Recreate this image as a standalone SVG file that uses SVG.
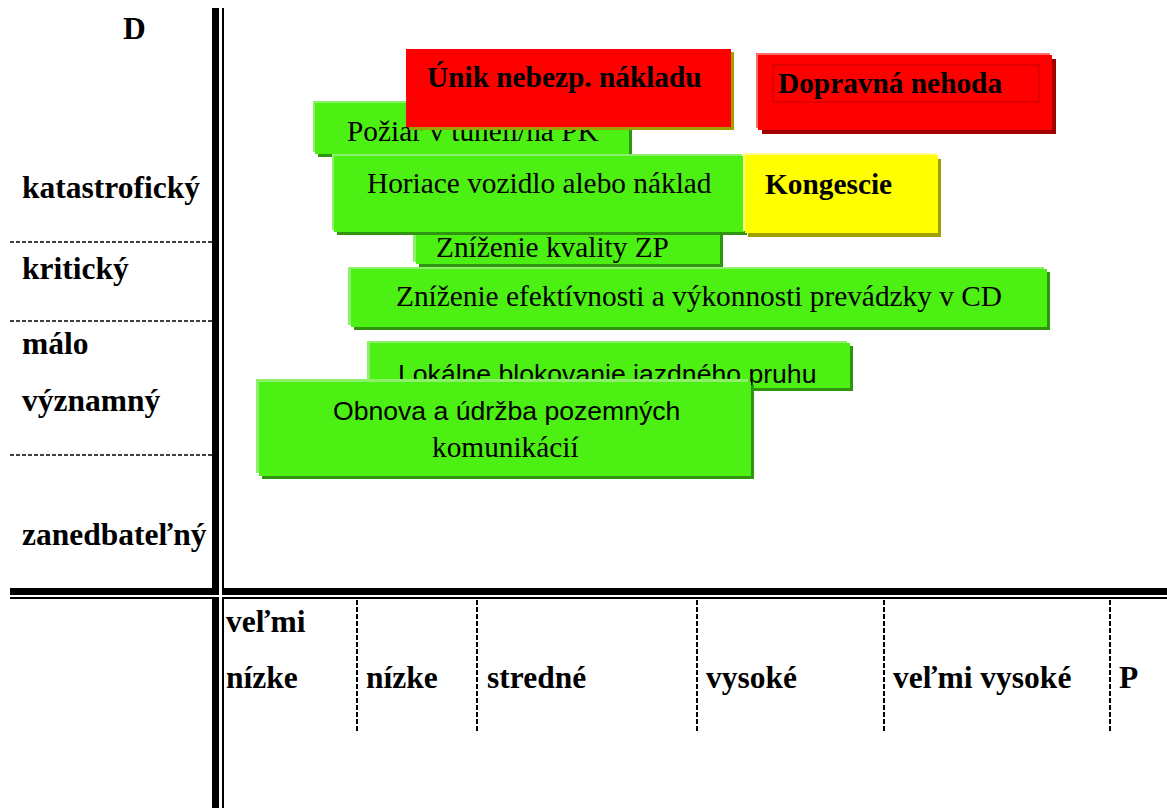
<svg xmlns="http://www.w3.org/2000/svg" width="1167" height="808" viewBox="0 0 1167 808">
<style>
.ax{font-family:"Liberation Serif","Times New Roman",serif;font-weight:bold;font-size:31.5px;fill:#000}
.bs{font-family:"Liberation Serif","Times New Roman",serif;font-size:29.33px;fill:#000}
.bb{font-family:"Liberation Serif","Times New Roman",serif;font-weight:bold;font-size:29.33px;fill:#000}
.ss{font-family:"Liberation Sans",Arial,sans-serif;font-size:26.6px;fill:#000}
.gh{fill:#8ef06a}.gs{fill:#2f940e}.gm{fill:#4df013}
.rh{fill:#ff6a6a}.rs{fill:#a00000}.rm{fill:#ff0000}
.ys{fill:#a0a000}.yh{fill:#ffff90}.ym{fill:#ffff00}
.dh{stroke:#000;stroke-width:1.3;stroke-dasharray:4 2;fill:none}
.dv{stroke:#000;stroke-width:2;stroke-dasharray:5 2;fill:none}
</style>
<rect width="1167" height="808" fill="#fff"/>
<g id="axes">
<rect x="212" y="8" width="7" height="800" fill="#000"/>
<rect x="222" y="8" width="2" height="800" fill="#000"/>
<rect x="10" y="588" width="1157" height="7" fill="#000"/>
<rect x="10" y="597" width="1157" height="2" fill="#000"/>
<rect x="219" y="587" width="3" height="13" fill="#fff"/>
<rect x="211" y="595" width="14" height="2" fill="#fff"/>
<line class="dh" x1="10" y1="242" x2="212" y2="242"/>
<line class="dh" x1="10" y1="321" x2="212" y2="321"/>
<line class="dh" x1="10" y1="455" x2="212" y2="455"/>
<line class="dv" x1="357" y1="600" x2="357" y2="731"/>
<line class="dv" x1="477" y1="600" x2="477" y2="731"/>
<line class="dv" x1="697" y1="600" x2="697" y2="731"/>
<line class="dv" x1="884" y1="600" x2="884" y2="731"/>
<line class="dv" x1="1110" y1="600" x2="1110" y2="731"/>
</g>
<g id="labels">
<text class="ax" x="123" y="39">D</text>
<text class="ax" x="22" y="198">katastrofický</text>
<text class="ax" x="22" y="279">kritický</text>
<text class="ax" x="22" y="354">málo</text>
<text class="ax" x="22" y="411">významný</text>
<text class="ax" x="22" y="545">zanedbateľný</text>
<text class="ax" x="226" y="632">veľmi</text>
<text class="ax" x="226" y="688">nízke</text>
<text class="ax" x="366" y="688">nízke</text>
<text class="ax" x="487" y="688">stredné</text>
<text class="ax" x="706" y="688">vysoké</text>
<text class="ax" x="893" y="688">veľmi vysoké</text>
<text class="ax" x="1119" y="688">P</text>
</g>
<g id="kvalita">
<rect class="gs" x="419" y="203" width="304" height="64"/>
<rect class="gh" x="413" y="198" width="304" height="64"/>
<rect class="gm" x="416" y="200" width="304" height="64"/>
<text class="bs" x="436" y="257">Zníženie kvality ZP</text>
</g>
<g id="poziar">
<rect class="gs" x="318" y="106" width="314" height="51"/>
<rect class="gh" x="313" y="101" width="314" height="51"/>
<rect class="gm" x="315" y="103" width="314" height="51"/>
<text class="bs" x="347" y="141">Požiar v tuneli/na PK</text>
</g>
<g id="unik">
<rect class="ys" x="409" y="52" width="325" height="78"/>
<rect class="rm" x="406" y="49" width="325" height="78"/>
<text class="bb" x="427" y="87">Únik nebezp. nákladu</text>
</g>
<g id="dopravna">
<rect class="rs" x="762" y="59" width="294" height="75"/>
<rect class="rh" x="756" y="53" width="294" height="75"/>
<rect class="rm" x="758" y="55" width="294" height="75"/>
<rect x="773" y="65" width="266" height="37" fill="none" stroke="#c00000" stroke-width="1"/>
<text class="bb" x="778" y="93">Dopravná nehoda</text>
</g>
<g id="horiace">
<rect class="gs" x="337" y="159" width="410" height="76"/>
<rect class="gh" x="332" y="154" width="410" height="76"/>
<rect class="gm" x="334" y="156" width="410" height="76"/>
<text class="bs" x="367" y="193">Horiace vozidlo alebo náklad</text>
</g>
<g id="kongescie">
<rect class="ys" x="748" y="159" width="193" height="78"/>
<rect class="yh" x="743" y="153" width="193" height="78"/>
<rect class="ym" x="745" y="155" width="193" height="78"/>
<text class="bb" x="765" y="194">Kongescie</text>
</g>
<g id="efektivnost">
<rect class="gs" x="354" y="272" width="696" height="58"/>
<rect class="gh" x="348" y="267" width="696" height="58"/>
<rect class="gm" x="351" y="269" width="696" height="58"/>
<text class="bs" x="396" y="306">Zníženie efektívnosti a výkonnosti prevádzky v CD</text>
</g>
<g id="lokalne">
<rect class="gs" x="373" y="346" width="480" height="45"/>
<rect class="gh" x="367" y="341" width="480" height="45"/>
<rect class="gm" x="370" y="343" width="480" height="45"/>
<text class="ss" x="398" y="383">Lokálne blokovanie jazdného pruhu</text>
</g>
<g id="obnova">
<rect class="gs" x="262" y="385" width="492" height="94"/>
<rect class="gh" x="256" y="379" width="492" height="94"/>
<rect class="gm" x="259" y="382" width="492" height="94"/>
<text class="ss" x="333" y="420">Obnova a údržba pozemných</text>
<text class="bs" x="432" y="457">komunikácií</text>
</g>
<g id="connectors"/>
</svg>
